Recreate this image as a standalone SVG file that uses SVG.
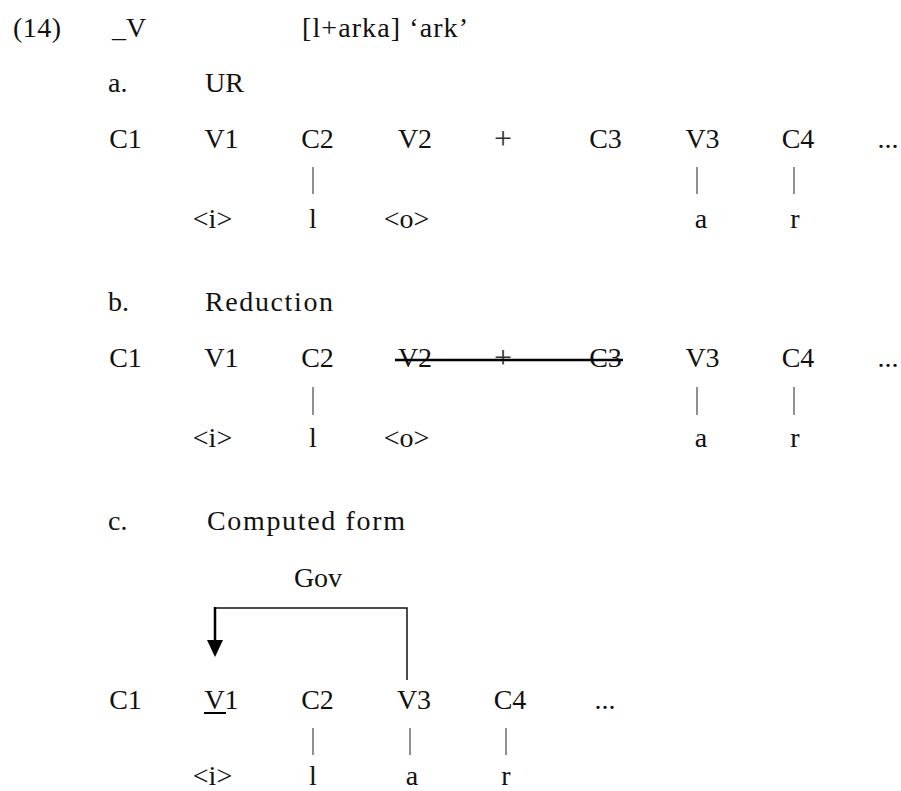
<svg xmlns="http://www.w3.org/2000/svg" width="901" height="791" viewBox="0 0 901 791">
<style>
text{font-family:'Liberation Serif','DejaVu Serif','Times New Roman',Times,serif;font-size:28px;fill:#111}
.m{text-anchor:middle}
.p{font-size:32px;fill:#333}
.bar{stroke:#555;stroke-width:1.3;fill:none}
.strike{stroke:#000;stroke-width:2.5;fill:none}
.gov{stroke:#111;stroke-width:1.5;fill:none}
.govh{stroke:#000;stroke-width:2.5;fill:none}
</style>
<rect width="901" height="791" fill="#fff"/>
<g id="header">
<text x="13" y="37" textLength="48" lengthAdjust="spacing">(14)</text>
<text x="112" y="37">_V</text>
<text x="302" y="37" textLength="166" lengthAdjust="spacing">[l+arka] ‘ark’</text>
</g>
<g id="label-a"><text x="108" y="92">a.</text><text x="205" y="92">UR</text></g>
<g id="label-b"><text x="108" y="311">b.</text><text x="205" y="311" textLength="128" lengthAdjust="spacing">Reduction</text></g>
<g id="label-c"><text x="108" y="530">c.</text><text x="207" y="530" textLength="198" lengthAdjust="spacing">Computed form</text></g>

<g id="rowA">
<g id="a-C1"><text class="m" x="125.5" y="148">C1</text></g>
<g id="a-V1"><text class="m" x="221.5" y="148">V1</text></g>
<g id="a-C2"><text class="m" x="317.5" y="148">C2</text></g>
<g id="a-V2"><text class="m" x="415" y="148">V2</text></g>
<g id="a-plus"><text class="m p" x="503" y="149">+</text></g>
<g id="a-C3"><text class="m" x="605.5" y="148">C3</text></g>
<g id="a-V3"><text class="m" x="702.5" y="148">V3</text></g>
<g id="a-C4"><text class="m" x="798" y="148">C4</text></g>
<g id="a-dots"><text class="m" x="888" y="148">...</text></g>
<g id="a-i"><text class="m" x="212.5" y="228">&lt;i&gt;</text></g>
<g id="a-l"><text class="m" x="313" y="228">l</text></g>
<g id="a-o"><text class="m" x="406.5" y="228">&lt;o&gt;</text></g>
<g id="a-a"><text class="m" x="701" y="228">a</text></g>
<g id="a-r"><text class="m" x="795" y="228">r</text></g>
</g>

<g id="rowB">
<g id="b-C1"><text class="m" x="125.5" y="367">C1</text></g>
<g id="b-V1"><text class="m" x="221.5" y="367">V1</text></g>
<g id="b-C2"><text class="m" x="317.5" y="367">C2</text></g>
<g id="b-V2"><text class="m" x="415" y="367">V2</text></g>
<g id="b-plus"><text class="m p" x="503" y="368">+</text></g>
<g id="b-C3"><text class="m" x="605.5" y="367">C3</text></g>
<g id="b-V3"><text class="m" x="702.5" y="367">V3</text></g>
<g id="b-C4"><text class="m" x="798" y="367">C4</text></g>
<g id="b-dots"><text class="m" x="888" y="367">...</text></g>
<g id="b-i"><text class="m" x="212.5" y="447">&lt;i&gt;</text></g>
<g id="b-l"><text class="m" x="313" y="447">l</text></g>
<g id="b-o"><text class="m" x="406.5" y="447">&lt;o&gt;</text></g>
<g id="b-a"><text class="m" x="701" y="447">a</text></g>
<g id="b-r"><text class="m" x="795" y="447">r</text></g>
</g>

<g id="rowC">
<g id="gov"><text class="m" x="318" y="587">Gov</text></g>
<g id="c-C1"><text class="m" x="125.5" y="709">C1</text></g>
<g id="c-V1"><text class="m" x="221.5" y="709">V1</text><line x1="204" y1="713" x2="226" y2="713" stroke="#000" stroke-width="2"/></g>
<g id="c-C2"><text class="m" x="317.5" y="709">C2</text></g>
<g id="c-V3"><text class="m" x="414" y="709">V3</text></g>
<g id="c-C4"><text class="m" x="510" y="709">C4</text></g>
<g id="c-dots"><text class="m" x="605" y="709">...</text></g>
<g id="c-i"><text class="m" x="212.5" y="785">&lt;i&gt;</text></g>
<g id="c-l"><text class="m" x="313" y="785">l</text></g>
<g id="c-a"><text class="m" x="412" y="785">a</text></g>
<g id="c-r"><text class="m" x="506" y="785">r</text></g>
</g>

<g id="connectors">
<line class="bar" x1="313" y1="167" x2="313" y2="194"/>
<line class="bar" x1="697" y1="167" x2="697" y2="194"/>
<line class="bar" x1="794" y1="167" x2="794" y2="194"/>
<line class="bar" x1="313" y1="387" x2="313" y2="415"/>
<line class="bar" x1="697" y1="387" x2="697" y2="415"/>
<line class="bar" x1="794" y1="387" x2="794" y2="415"/>
<line class="strike" x1="395" y1="360" x2="623" y2="360"/>
<line class="bar" x1="313" y1="728" x2="313" y2="755"/>
<line class="bar" x1="410" y1="728" x2="410" y2="755"/>
<line class="bar" x1="506" y1="728" x2="506" y2="755"/>
<path class="gov" d="M407,680 V608 H215"/>
<path class="govh" d="M215,607 V641"/>
<polygon points="207,640 223,640 215,657" fill="#000"/>
</g>
</svg>
